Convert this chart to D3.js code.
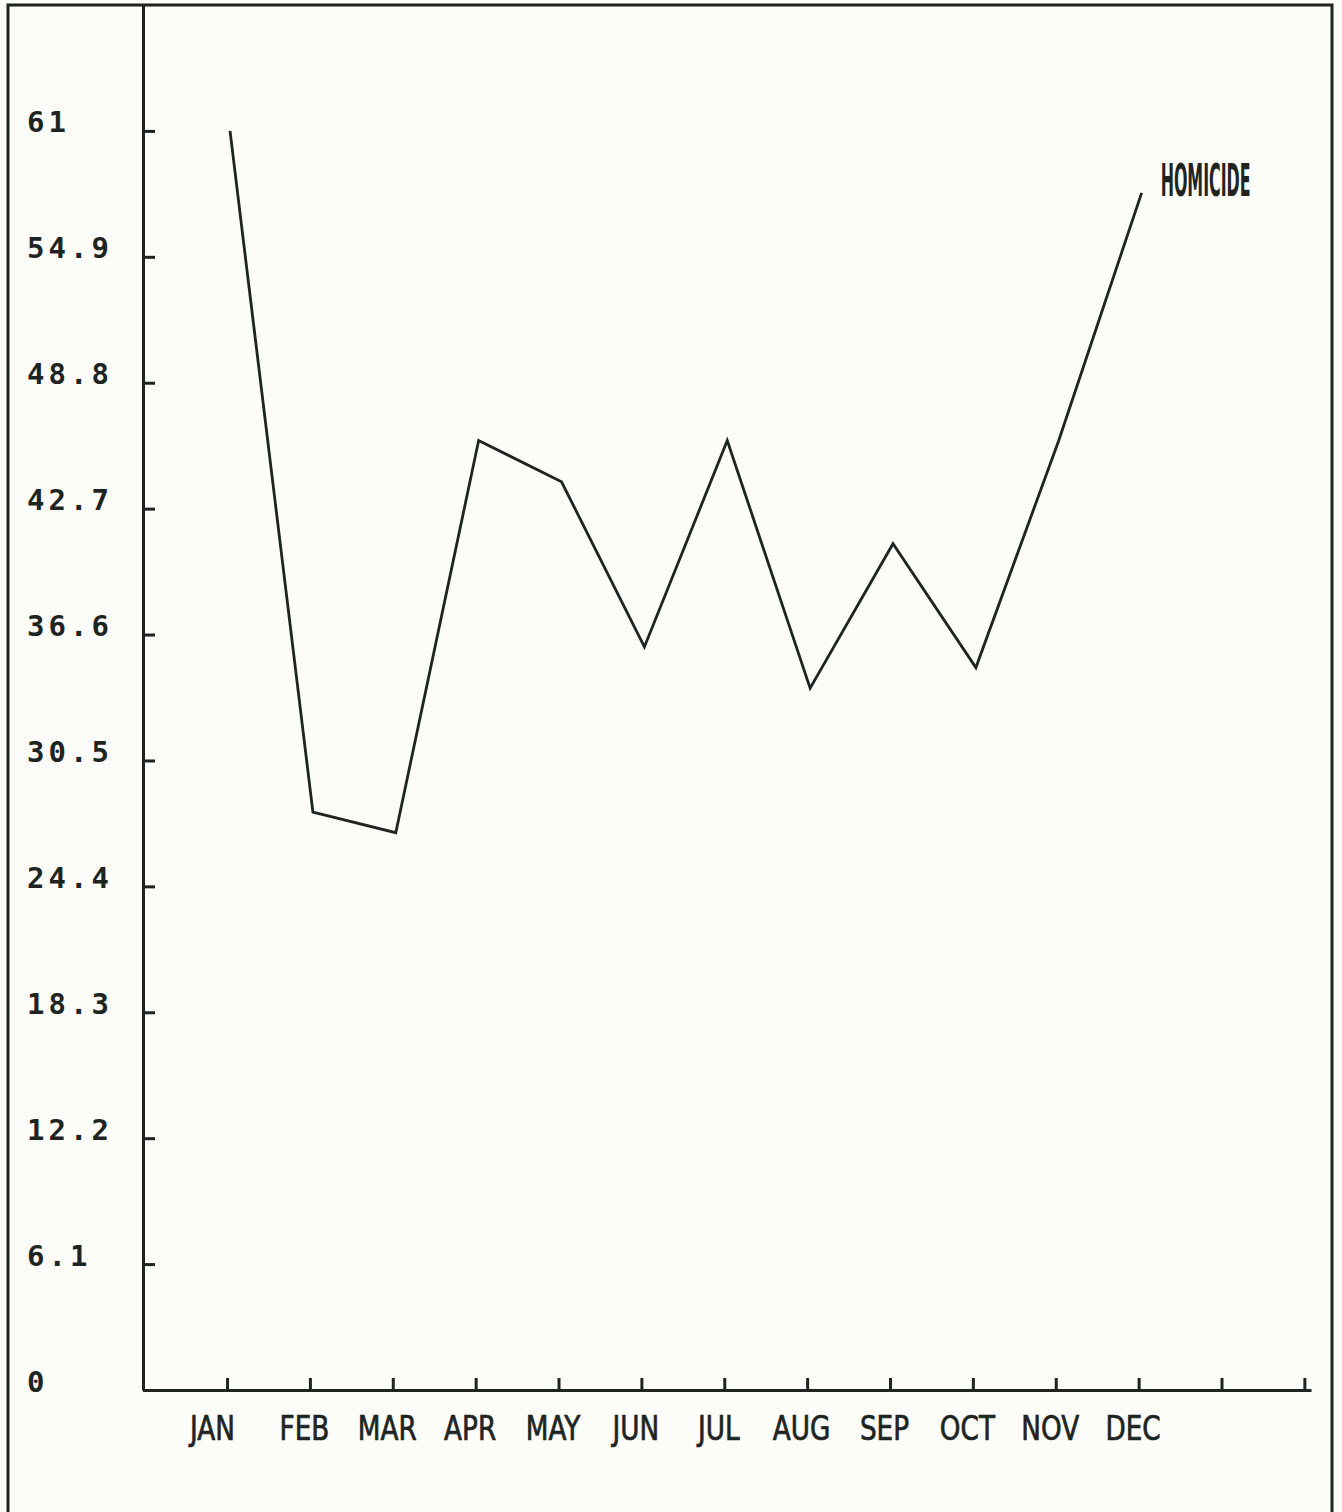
<!DOCTYPE html>
<html>
<head>
<meta charset="utf-8">
<script src="https://cdn.jsdelivr.net/npm/d3@7"></script>
<style>
  body { margin: 0; background: #fcfcf9; }
  svg { display: block; }
  .y-axis text { font-family: "DejaVu Sans Mono", monospace; font-weight: bold; font-size: 29px; fill: #1e241f; letter-spacing: 4px; }
  .x-axis text { font-family: "DejaVu Sans Condensed", "Liberation Sans Narrow", sans-serif; font-size: 34px; fill: #1e241f; stroke: #1e241f; stroke-width: 0.7px; }
  .series-label { font-family: "DejaVu Sans Condensed", sans-serif; font-weight: bold; font-size: 44px; fill: #1e241f; }
</style>
</head>
<body>
<svg width="1342" height="1512"></svg>
<script>
// data
var months = ["JAN", "FEB", "MAR", "APR", "MAY", "JUN", "JUL", "AUG", "SEP", "OCT", "NOV", "DEC"];
var homicide = [61, 28, 27, 46, 44, 36, 46, 34, 41, 35, 46, 58];
var yTicks = [0, 6.1, 12.2, 18.3, 24.4, 30.5, 36.6, 42.7, 48.8, 54.9, 61];
var yTickLabels = ["0", "6.1", "12.2", "18.3", "24.4", "30.5", "36.6", "42.7", "48.8", "54.9", "61"];
var xTickCount = 14; // 12 months plus two empty ticks
var seriesName = "HOMICIDE";

var svg = d3.select("svg");
var ink = "#1e241f";

// outer frame
svg.append("rect")
    .attr("x", 8)
    .attr("y", 5)
    .attr("width", 1324)
    .attr("height", 1540)
    .attr("fill", "none")
    .attr("stroke", ink)
    .attr("stroke-width", 3);

// scales
var x = d3.scaleLinear()
    .domain([-1.014, 13.08])
    .range([143, 1311]);

var y = d3.scaleLinear()
    .domain([0, 67.1])
    .range([1390, 5]);

// y axis, ticks pointing inward, labels at far left
var yAxis = svg.append("g")
    .attr("class", "y-axis")
    .attr("transform", "translate(143,0)")
    .call(d3.axisLeft(y)
        .tickValues(yTicks)
        .tickSize(-12)
        .tickSizeOuter(0)
        .tickFormat(function (d, i) { return yTickLabels[i]; }));

yAxis.select(".domain").attr("stroke", ink).attr("stroke-width", 3);
yAxis.selectAll(".tick line").attr("stroke", ink).attr("stroke-width", 3);
yAxis.selectAll(".tick text")
    .attr("x", -116)
    .attr("dy", 0)
    .attr("y", 1)
    .attr("text-anchor", "start")
    .attr("fill", ink);

// x axis, ticks pointing upward
var xAxis = svg.append("g")
    .attr("class", "x-axis")
    .attr("transform", "translate(0,1390)")
    .call(d3.axisBottom(x)
        .tickValues(d3.range(xTickCount))
        .tickSize(-12)
        .tickSizeOuter(0)
        .tickFormat(function (d) { return months[d] || ""; }));

xAxis.select(".domain").attr("stroke", ink).attr("stroke-width", 3);
xAxis.selectAll(".tick line").attr("stroke", ink).attr("stroke-width", 3);
// narrow plotter lettering: squeeze horizontally
xAxis.selectAll(".tick text")
    .attr("x", 0)
    .attr("y", 0)
    .attr("dy", 0)
    .attr("fill", ink)
    .attr("transform", function (d) {
        return "translate(" + (d === 0 ? -15 : -6) + ",50) scale(0.86,1)";
    });

// the data line (plotter drew it a few px right of the ticks)
var line = d3.line()
    .x(function (d, i) { return x(i) + 3; })
    .y(function (d) { return y(d); });

svg.append("path")
    .datum(homicide)
    .attr("d", line)
    .attr("fill", "none")
    .attr("stroke", ink)
    .attr("stroke-width", 2.8)
    .attr("stroke-linejoin", "miter");

// series label next to last point, squeezed to the narrow plotter width
var last = homicide.length - 1;
var labelG = svg.append("g")
    .attr("transform", "translate(" + (x(last) + 22) + "," + (y(homicide[last]) + 3) + ")");
var label = labelG.append("text")
    .attr("class", "series-label")
    .text(seriesName);
var natural = label.node().getComputedTextLength();
label.attr("transform", "scale(" + (90 / natural) + ",1)");
</script>
</body>
</html>
